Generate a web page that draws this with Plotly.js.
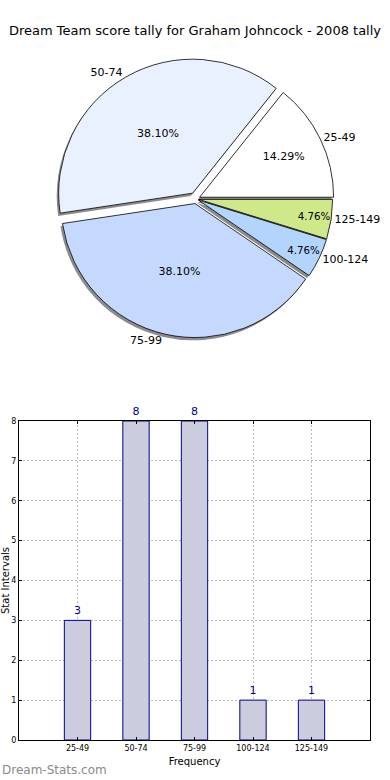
<!DOCTYPE html>
<html>
<head>
<meta charset="utf-8">
<script src="https://cdn.plot.ly/plotly-3.0.1.min.js"></script>
<style>html,body{margin:0;padding:0;background:#fff;}#chart{width:390px;height:780px;}</style>
</head>
<body>
<div id="chart"></div>
<script>
// Data
const categories = ["25-49", "50-74", "75-99", "100-124", "125-149"];
const counts = [3, 8, 8, 1, 1];
const pieColors = ["#ffffff", "#eaf1fe", "#c5d9fe", "#b3d4fc", "#cfe98a"];
const yTicks = [0, 1, 2, 3, 4, 5, 6, 7, 8];

const F = "DejaVu Sans, sans-serif";
const pull = [0.03, 0.05, 0.035, 0.02, 0.02];
const rot = 90 - 360 * counts[0] / counts.reduce((a, b) => a + b, 0);
const pieDomain = {x: [0.1418, 0.8633], y: [0.5645, 0.9253]};
const shadowDomain = {x: [0.1368, 0.8583], y: [0.5610, 0.9218]};

const shadow = {
  type: "pie", values: counts, labels: categories, sort: false,
  direction: "counterclockwise", rotation: rot, pull: pull,
  domain: shadowDomain, textinfo: "none", hoverinfo: "skip",
  marker: {colors: categories.map(() => "#8c8c8c"), line: {width: 0}},
  showlegend: false
};
const pie = {
  type: "pie", values: counts, labels: categories, sort: false,
  direction: "counterclockwise", rotation: rot, pull: pull,
  domain: pieDomain, texttemplate: "%{percent:.2%}", textposition: "inside",
  insidetextorientation: "horizontal",
  textfont: {family: F, size: 11, color: "#000"},
  marker: {colors: pieColors, line: {color: "#000", width: 0.8}},
  showlegend: false
};
const pieLabels = {
  type: "pie", values: counts, labels: categories, sort: false,
  direction: "counterclockwise", rotation: rot, pull: pull,
  domain: pieDomain, textinfo: "label", textposition: "outside",
  textfont: {family: F, size: 11, color: "#000"},
  outsidetextfont: {family: F, size: 11, color: "#000"},
  marker: {colors: categories.map(() => "rgba(0,0,0,0)"), line: {width: 0}},
  hoverinfo: "skip", showlegend: false
};
const bars = {
  type: "bar", x: categories, y: counts, width: 0.45,
  marker: {color: "#ccccdf", line: {color: "#00008b", width: 1}},
  text: counts.map(String), textposition: "outside", cliponaxis: false,
  textfont: {family: F, size: 11, color: "#00008b"},
  xaxis: "x", yaxis: "y", showlegend: false
};

const layout = {
  width: 390, height: 780,
  margin: {l: 0, r: 0, t: 0, b: 0},
  paper_bgcolor: "#fff", plot_bgcolor: "#fff",
  font: {family: F, color: "#000"},
  title: {text: "Dream Team score tally for Graham Johncock - 2008 tally",
          font: {family: F, size: 13, color: "#000"},
          x: 0.5, xanchor: "center", y: 1 - 30/780, yanchor: "middle", yref: "container"},
  xaxis: {
    domain: [19/390, 370/390], range: [-1, 5], type: "category",
    showline: true, linecolor: "#000", linewidth: 1, mirror: "ticks",
    ticks: "inside", ticklen: 3, tickcolor: "#000",
    showgrid: true, gridcolor: "#bcbcbc", griddash: "2px,2px", gridwidth: 1,
    tickfont: {family: F, size: 8, color: "#000"},
    title: {text: "Frequency", font: {family: F, size: 10, color: "#000"}, standoff: 6},
    automargin: false, zeroline: false
  },
  yaxis: {
    domain: [1 - 740/780, 1 - 421/780], range: [0, 8], tickvals: yTicks,
    showline: true, linecolor: "#000", linewidth: 1, mirror: "ticks",
    ticks: "inside", ticklen: 3, tickcolor: "#000",
    showgrid: true, gridcolor: "#bcbcbc", griddash: "2px,2px", gridwidth: 1,
    tickfont: {family: F, size: 8, color: "#000"},
    title: {text: "Stat Intervals", font: {family: F, size: 10, color: "#000"}, standoff: 0},
    automargin: false, zeroline: false
  },
  annotations: [{
    text: "Dream-Stats.com", xref: "paper", yref: "paper",
    x: 0, y: 1 - 770/780, xanchor: "left", yanchor: "middle", showarrow: false,
    font: {family: F, size: 12, color: "#8a8a8a"}
  }]
};

Plotly.newPlot("chart", [shadow, pie, pieLabels, bars], layout, {displayModeBar: false, staticPlot: true});
</script>
</body>
</html>
